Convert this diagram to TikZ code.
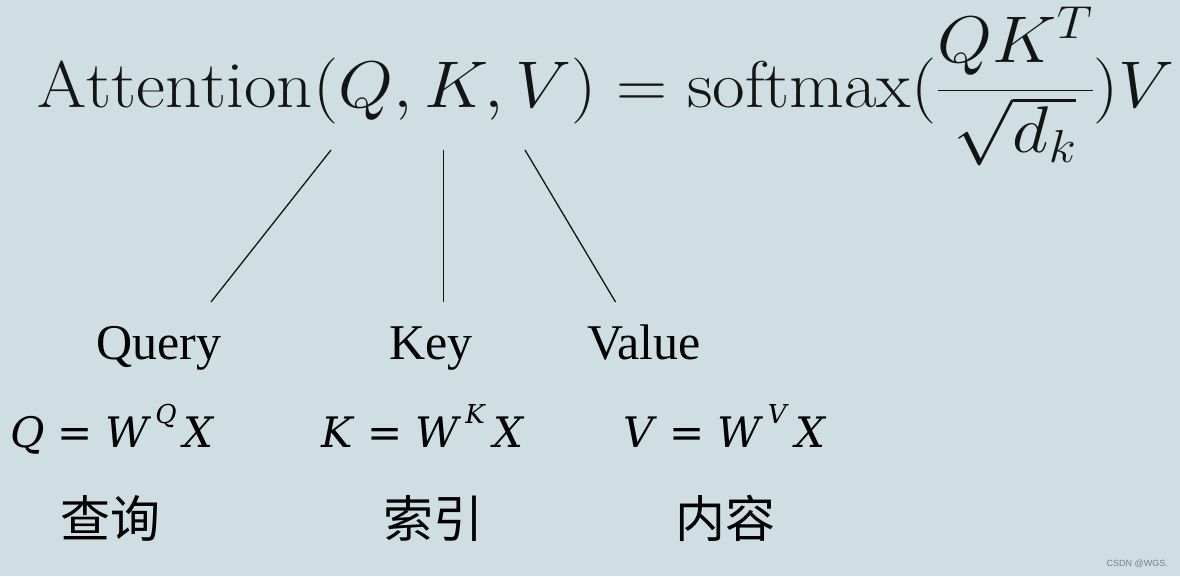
\documentclass[tikz,border=0pt]{standalone}
\usepackage{fix-cm}
\usepackage{fontspec}
\usepackage{amsmath}
\newfontfamily\labelfont{Liberation Serif}
\newfontfamily\eqfont{DejaVu Serif}
\newfontfamily\cjkfont{Noto Sans CJK SC}
\newfontfamily\markfont{Liberation Sans}
\definecolor{SlideBg}{RGB}{207,222,227}
\definecolor{InkDark}{RGB}{20,20,20}
\definecolor{MarkGray}{RGB}{120,128,132}
\newcommand{\wproj}[1]{\textit{#1}\hspace{0.3em}=\hspace{0.3em}\textit{W}\raisebox{0.55em}{\fontsize{26}{28}\selectfont\,\textit{#1}}\,\textit{X}}

\begin{document}
\begin{tikzpicture}[x=1pt,y=-1pt,
    role/.style={anchor=base,inner sep=0pt,font=\labelfont\fontsize{50}{54}\selectfont},
    proj/.style={anchor=base west,inner sep=0pt,font=\eqfont\fontsize{42}{46}\selectfont},
    zh/.style={anchor=center,inner sep=0pt,font=\cjkfont\fontsize{50}{54}\selectfont},
    branch/.style={InkDark,line width=1.3pt}]
  \fill[SlideBg] (0,0) rectangle (1180,576);
  \useasboundingbox (0,0) rectangle (1180,576);
  %% attention formula
  \node[anchor=base west,inner sep=0pt,InkDark,xscale=1.074,transform shape,
        font=\fontsize{66}{70}\selectfont]
       (formula) at (37,107)
       {$\displaystyle \mathrm{Attention}(Q,K,V)=\mathrm{softmax}(\frac{QK^T}{\sqrt{d_k}})V$};
  %% roles
  \node[role] (query) at (159,359) {Query};
  \node[role] (key)   at (431,359) {Key};
  \node[role] (value) at (644,359) {Value};
  %% projections
  \node[proj] (qproj) at (10,447)  {\wproj{Q}};
  \node[proj] (kproj) at (321,447) {\wproj{K}};
  \node[proj] (vproj) at (623,447) {\wproj{V}};
  %% chinese names
  \node[zh] (qzh) at (110,518) {查询};
  \node[zh] (kzh) at (433,518) {索引};
  \node[zh] (vzh) at (725,518) {内容};
  %% branches
  \coordinate (qtop) at (331,150);
  \coordinate (ktop) at (443.5,150);
  \coordinate (vtop) at (525,150);
  \coordinate (qend) at (211,302);
  \coordinate (kend) at (443.5,302);
  \coordinate (vend) at (615.5,302);
  \draw[branch] (qtop) -- (qend);
  \draw[branch] (ktop) -- (kend);
  \draw[branch] (vtop) -- (vend);
  %% watermark
  \node[anchor=base east,inner sep=0pt,MarkGray,font=\markfont\fontsize{9}{10}\selectfont]
       (mark) at (1168,566) {CSDN @WGS.};
\end{tikzpicture}
\end{document}
